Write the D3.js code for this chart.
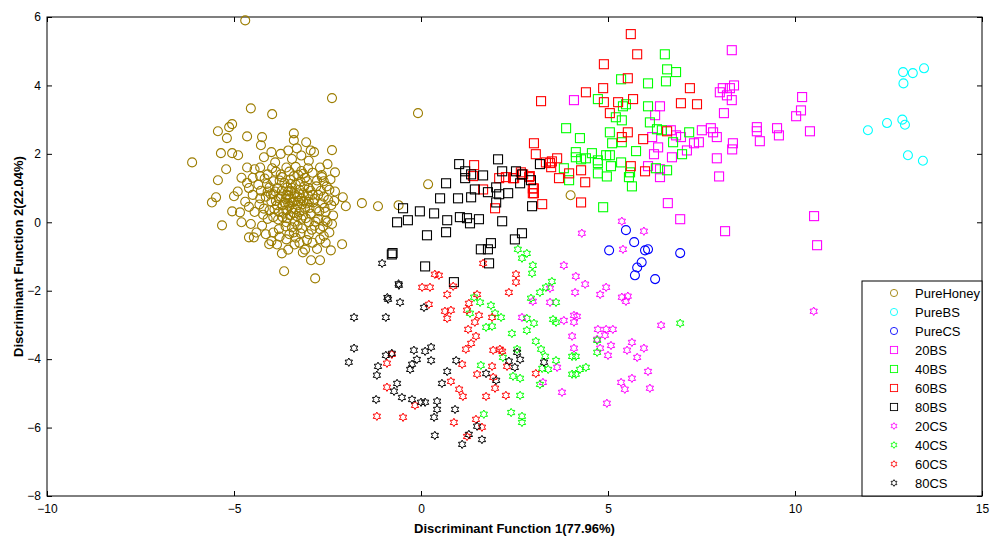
<!DOCTYPE html>
<html lang="en">
<head>
<meta charset="UTF-8">
<title>Discriminant scatter</title>
<script src="https://cdnjs.cloudflare.com/ajax/libs/d3/7.8.5/d3.min.js"></script>
<style>
  body { margin: 0; background: #fff; font-family: Arial, 'Liberation Sans', sans-serif; }
</style>
</head>
<body>
<div id="chart"></div>
<script>
// data as [x, y]
const pureHoney = [
  [-4.7,5.9],[-2.38,3.63],[-4.55,3.33],[-3.98,3.16],[-0.08,3.19],[-5.43,2.66],[-5.13,2.78],[-5.05,2.87],
  [-5.19,2.46],[-4.65,2.51],[-4.25,2.49],[-3.4,2.6],[-3.4,2.4],[-3.07,2.34],[-4.28,2.25],[-6.12,1.75],
  [-5.35,2.02],[-5.05,2.02],[-4.89,1.96],[-2.86,2.05],[-2.38,2.11],[-3.32,2.16],[-5.21,1.55],[-5.43,1.23],
  [-2.3,1.46],[-2.65,1.32],[-5.48,0.73],[-5.59,0.58],[-5.0,0.76],[-5.05,0.32],[-5.32,-0.09],[-2.09,0.73],
  [-2.01,0.47],[-1.58,0.56],[-1.15,0.47],[-4.6,-0.44],[-4.47,-0.44],[-4.06,-0.64],[-2.11,-0.64],[-2.41,-0.82],
  [-2.94,-1.11],[-2.7,-1.11],[-3.66,-1.43],[-2.83,-1.64],[-3.72,-0.91],[-3.16,-0.88],[-4.84,0.29],[0.19,1.11],
  [4.0,0.79],[-0.6,0.5],
  // dense core
  [-3.4,0.6],[-3.5,0.7],[-3.3,0.5],[-3.6,0.8],[-3.2,0.7],[-3.45,0.4],[-3.55,0.9],[-3.25,0.95],[-3.7,0.5],
  [-3.1,0.4],[-3.8,0.7],[-3.0,0.6],[-3.35,1.1],[-3.65,1.15],[-3.9,0.9],[-2.9,0.8],[-3.15,0.2],[-3.5,0.2],
  [-3.8,0.3],[-4.0,0.6],[-2.8,0.4],[-3.3,-0.1],[-3.6,0.0],[-3.0,0.0],[-2.75,0.1],[-4.1,0.9],[-4.2,0.4],
  [-3.95,1.2],[-3.75,1.4],[-3.4,1.35],[-3.05,1.2],[-2.8,1.05],[-2.6,0.75],[-2.55,0.3],[-2.7,-0.2],[-3.0,-0.35],
  [-3.4,-0.3],[-3.8,-0.2],[-4.1,0.1],[-4.3,0.7],[-4.35,1.1],[-4.1,1.4],[-3.6,1.6],[-3.2,1.5],[-2.9,1.45],
  [-2.6,1.2],[-2.45,0.95],[-2.4,0.5],[-2.5,0.0],[-2.6,-0.4],[-2.9,-0.6],[-3.25,-0.6],[-3.6,-0.5],[-3.95,-0.3],
  [-4.25,-0.1],[-4.45,0.3],[-4.5,0.8],[-4.5,1.3],[-4.3,1.6],[-3.9,1.75],[-3.45,1.85],[-3.0,1.8],[-2.7,1.6],
  [-3.55,0.55],[-3.25,0.3],[-3.15,0.85],[-3.85,1.0],[-2.95,0.25],[-3.7,0.15],[-3.45,1.0],[-3.0,1.0],[-2.65,0.55],
  [-4.05,0.35],[-3.35,-0.45],[-2.85,-0.1],[-4.6,1.0],[-4.7,0.6],[-4.65,1.6],[-4.2,1.9],[-3.75,2.0],[-3.2,1.95],
  [-2.5,1.7],[-2.3,0.9],[-2.35,0.2],[-2.45,-0.3],[-3.1,-0.8],[-3.55,-0.8],[-4.0,-0.55],[-4.4,-0.3],[-4.8,0.0],
  [-4.9,0.9],[-4.8,1.3],[-3.3,0.75],[-3.6,0.35],[-3.05,0.55],[-3.85,0.5],[-3.5,1.25],[-2.75,0.8],[-3.2,0.1],
  [-4.15,0.75],[-3.95,0.15],[-2.55,0.05],[-3.1,1.3],[-4.3,1.35],[-2.7,-0.5],[-3.45,-0.15],
  [-3.38,0.82],[-3.52,0.48],[-3.28,0.62],[-3.62,0.68],[-3.18,0.52],[-3.42,0.28],[-3.72,0.92],[-3.12,1.05],
  [-3.58,1.02],[-3.02,0.78],[-3.88,0.62],[-3.32,0.18],[-3.68,0.28],[-2.98,0.42],[-3.48,1.12],[-3.22,1.18],
  [-3.78,1.22],[-2.88,0.58],[-3.92,0.38],[-3.08,0.12],[-3.38,0.02],[-3.62,-0.12],[-2.92,-0.22],[-3.18,-0.18],
  [-3.82,0.08],[-4.02,0.82],[-4.12,1.12],[-3.88,1.48],[-3.52,1.48],[-3.28,1.38],[-2.78,1.22],[-2.68,0.92],
  [-2.72,0.32],[-2.82,0.02],[-3.52,-0.35],[-3.78,-0.42],[-3.05,-0.52],[-2.62,-0.12],[-4.22,0.22],[-4.32,0.52],
  [-4.28,0.92],[-4.18,1.28],[-3.98,1.58],[-3.35,1.62],[-3.02,1.58],[-2.52,1.05],[-2.48,0.65],[-2.58,0.42],
  [-3.45,0.58],[-3.55,0.78],[-3.25,0.82],[-3.35,0.38],[-3.65,0.58],[-3.15,0.62],[-3.75,0.75],[-2.95,0.92],
  [-3.48,0.92],[-3.58,0.12],[-3.22,-0.32],[-2.85,0.68],[-3.95,0.82],[-4.05,1.02],[-3.72,1.32],[-3.15,1.42],
  [-2.65,1.38],[-2.42,1.25],[-2.32,0.62],[-2.38,-0.05],[-2.55,-0.6],[-2.78,-0.78],[-3.38,-0.65],[-3.85,-0.65],
  [-4.15,-0.35],[-4.55,-0.05],[-4.6,0.45],[-4.65,1.15],[-4.45,1.55],[-4.0,2.05],[-3.55,2.1],[-2.95,2.1]
];
const pureBS = [[12.89,4.39],[13.15,4.36],[13.45,4.5],[12.9,4.06],[11.95,2.69],[12.46,2.9],[12.87,3.0],[12.94,2.85],[13.02,1.96],[13.42,1.8]];
const pureCS = [[5.48,-0.23],[5.7,-0.58],[5.03,-0.82],[5.99,-0.82],[6.07,-0.79],[6.93,-0.9],[5.9,-1.17],[5.78,-1.32],[5.72,-1.55],[6.26,-1.66]];
const bs20 = [
  [8.31,5.03],[4.09,3.57],[8.07,3.92],[8.26,3.92],[8.37,4.0],[7.99,3.8],[8.18,3.71],[8.31,3.57],[10.19,3.66],[10.16,3.27],
  [10.03,3.1],[10.4,2.66],[8.1,3.19],[6.39,3.39],[6.26,3.13],[6.18,2.49],[6.68,2.69],[6.95,2.49],[6.82,2.54],[7.51,2.69],
  [7.75,2.75],[7.81,2.63],[7.91,2.49],[7.3,2.31],[7.43,2.34],[8.34,2.31],[8.32,2.13],[8.98,2.78],[8.98,2.66],[9.52,2.75],
  [9.57,2.54],[9.06,2.37],[7.11,2.1],[6.34,2.19],[6.23,1.99],[6.71,1.9],[6.07,1.64],[6.39,1.32],[7.91,1.87],[7.97,1.34],
  [6.6,0.56],[6.93,0.09],[8.13,-0.26],[10.51,0.18],[10.59,-0.67],[6.39,1.55]
];
const bs40 = [
  [6.52,4.91],[6.58,4.47],[6.82,4.39],[6.55,4.12],[6.07,4.06],[5.35,4.18],[4.73,3.6],[5.4,3.39],[5.48,3.45],[6.07,3.39],
  [5.21,3.07],[5.37,2.98],[6.12,2.92],[3.88,2.75],[4.25,2.46],[5.05,2.63],[6.31,2.72],[6.44,2.69],[7.17,2.63],[5.11,2.31],
  [5.37,2.34],[5.75,2.08],[4.14,2.05],[4.14,1.9],[4.28,1.84],[4.41,1.87],[4.57,2.02],[4.73,1.81],[4.73,1.73],[4.95,1.96],
  [5.05,1.96],[3.82,1.58],[3.96,1.23],[4.73,1.43],[4.97,1.34],[5.35,1.75],[5.08,1.64],[5.56,1.32],[5.64,1.05],[5.59,1.46],
  [6.28,1.58],[6.58,1.52],[6.74,2.34],[6.98,1.99],[4.87,0.44]
];
const bs60 = [
  [5.61,5.5],[5.78,4.91],[4.89,4.62],[5.53,4.21],[4.87,3.92],[4.41,3.8],[3.21,3.54],[7.19,3.92],[6.95,3.48],[7.38,3.45],
  [4.89,3.51],[5.27,3.51],[5.67,3.6],[5.05,3.19],[5.53,2.63],[5.37,2.49],[5.94,2.43],[6.58,2.66],[3.02,2.31],[3.07,1.99],
  [3.34,1.75],[3.5,1.78],[3.64,1.87],[3.48,1.61],[3.96,1.43],[4.28,1.52],[3.69,1.29],[4.39,1.17],[5.61,1.64],[5.99,1.49],
  [2.27,1.32],[2.49,1.29],[2.67,1.46],[2.89,1.32],[2.99,0.99],[2.99,0.85],[3.24,0.53],[4.28,0.58],[1.42,1.67],[1.39,1.35],
  [2.09,1.29],[2.46,1.29],[2.73,1.4],[2.91,1.35],[1.66,0.96],[3.02,0.99],[3.02,0.85],[1.98,0.41],[3.45,1.73]
];
const bs80 = [
  [1.02,1.7],[1.18,1.49],[1.34,1.4],[1.18,1.29],[1.66,1.37],[2.06,1.84],[2.17,1.49],[2.54,1.49],[2.7,1.4],[2.94,1.23],
  [3.18,1.7],[2.65,1.14],[0.67,1.14],[2.01,1.02],[1.44,0.96],[1.34,0.73],[1.79,0.88],[2.09,0.82],[2.33,0.85],[2.01,0.58],
  [2.97,0.47],[0.51,0.7],[0.99,0.7],[-0.48,0.41],[-0.03,0.32],[0.35,0.26],[-0.64,0.0],[-0.35,0.06],[0.7,0.06],[1.04,0.15],
  [1.23,0.12],[1.55,0.09],[1.31,-0.03],[2.17,0.03],[0.16,-0.38],[0.67,-0.29],[2.51,-0.5],[2.7,-0.32],[1.87,-0.61],[1.6,-0.79],
  [1.79,-0.79],[1.82,-1.2],[0.11,-1.29],[-0.78,-0.94],[-0.76,-0.9],[0.88,-1.75]
];
const cs20 = [
  [5.37,0.03],[4.3,-0.32],[5.96,-0.26],[5.4,-0.79],[3.82,-1.26],[4.14,-1.58],[4.39,-1.81],[4.12,-2.05],[4.95,-1.9],[4.79,-2.11],
  [5.37,-2.19],[5.53,-2.16],[5.48,-2.31],[3.45,-1.93],[3.45,-2.34],[2.99,-2.31],[2.7,-2.78],[4.09,-2.72],[4.17,-2.75],[4.09,-2.92],
  [3.82,-2.87],[4.73,-3.13],[4.95,-3.13],[5.13,-3.13],[4.92,-3.3],[4.04,-3.33],[6.42,-3.01],[5.64,-3.51],[5.51,-3.74],[5.08,-3.6],
  [4.79,-3.68],[5.0,-3.89],[5.96,-3.68],[5.78,-3.95],[4.09,-3.68],[4.71,-3.42],[3.64,-4.24],[3.26,-4.68],[3.77,-4.97],[5.35,-4.68],
  [5.45,-4.88],[5.64,-4.56],[6.07,-4.36],[6.12,-4.85],[4.97,-5.29],[10.5,-2.6]
];
const cs40 = [
  [2.59,-0.79],[2.83,-0.91],[2.7,-1.05],[2.99,-1.26],[2.97,-1.49],[3.5,-1.73],[3.34,-1.9],[3.18,-2.05],[2.94,-2.22],[3.61,-2.34],
  [1.58,-2.34],[1.87,-2.43],[1.98,-2.66],[2.14,-2.78],[1.74,-3.07],[1.9,-3.04],[1.31,-2.66],[2.43,-3.25],[2.83,-2.81],[3.02,-2.95],
  [2.83,-3.16],[3.53,-2.84],[3.61,-2.92],[3.07,-3.48],[3.21,-3.71],[3.32,-3.92],[2.19,-3.95],[2.57,-3.71],[3.61,-4.04],[3.24,-4.27],
  [3.4,-4.3],[4.04,-3.92],[4.14,-3.92],[4.71,-3.45],[4.71,-3.8],[1.6,-4.18],[2.46,-4.5],[2.65,-4.56],[3.18,-4.74],[4.04,-4.44],
  [4.14,-4.44],[4.25,-4.3],[4.41,-4.24],[2.65,-5.06],[1.68,-5.61],[2.41,-5.56],[2.7,-5.67],[2.7,-5.85],[6.93,-2.95],[1.42,-2.19]
];
const cs60 = [
  [1.66,-1.2],[0.37,-1.52],[2.54,-1.52],[2.54,-1.75],[2.35,-2.05],[0.03,-1.9],[0.24,-1.9],[0.86,-1.87],[0.7,-2.11],[1.5,-2.11],
  [0.21,-2.4],[1.28,-2.37],[1.23,-2.57],[0.64,-2.6],[0.8,-2.57],[0.7,-2.81],[1.55,-2.72],[1.44,-2.92],[1.9,-2.78],[1.26,-3.13],
  [1.47,-3.33],[1.34,-3.54],[1.2,-3.71],[1.93,-3.74],[2.11,-3.71],[2.17,-3.77],[-0.78,-3.86],[-0.91,-4.12],[1.1,-4.15],[1.9,-4.21],
  [2.3,-4.21],[3.07,-4.42],[1.5,-4.44],[1.93,-4.53],[0.8,-4.65],[1.98,-4.85],[-0.91,-4.82],[1.02,-4.88],[1.12,-5.09],[1.74,-5.09],
  [2.27,-5.06],[-0.16,-5.35],[-1.18,-5.67],[-0.48,-5.7],[0.88,-5.85],[1.47,-5.76],[1.63,-5.99],[1.23,-6.26],[0.48,-1.55]
];
const cs80 = [
  [-1.04,-1.2],[-0.59,-1.84],[-0.56,-2.34],[-0.88,-2.25],[-1.79,-2.78],[-0.94,-2.78],[0.08,-2.49],[-1.79,-3.68],[-1.93,-4.09],[-1.15,-4.21],
  [-1.18,-4.47],[-0.94,-3.89],[-0.78,-3.83],[-0.19,-3.74],[0.11,-3.77],[0.27,-3.65],[0.27,-4.04],[-0.11,-4.01],[-0.24,-4.15],[-0.29,-4.3],
  [-0.64,-4.71],[-0.72,-4.94],[-0.51,-5.12],[-1.2,-5.18],[-0.24,-5.18],[0.0,-5.26],[0.11,-5.26],[0.43,-5.23],[0.43,-5.47],[0.35,-5.7],
  [0.91,-5.47],[0.94,-4.04],[0.7,-4.36],[0.56,-4.71],[1.74,-4.42],[2.01,-4.62],[2.35,-4.06],[2.51,-4.24],[2.57,-3.8],[2.65,-4.01],
  [3.29,-4.09],[0.37,-6.23],[1.1,-6.49],[1.28,-6.2],[1.5,-5.96],[1.63,-6.35],[-0.6,-1.8],[-0.9,-2.2]
];

const seriesNames = ["PureHoney","PureBS","PureCS","20BS","40BS","60BS","80BS","20CS","40CS","60CS","80CS"];
const seriesData = [pureHoney, pureBS, pureCS, bs20, bs40, bs60, bs80, cs20, cs40, cs60, cs80];
const seriesShape = ["circle","circle","circle","square","square","square","square","hex","hex","hex","hex"];
const seriesColor = ["#9c7d00","#00ffff","#0000ff","#ff00ff","#00ff00","#ff0000","#000000","#ff00ff","#00ff00","#ff0000","#000000"];
const xTicks = [-10,-5,0,5,10,15];
const yTicks = [-8,-6,-4,-2,0,2,4,6];

const W = 1000, H = 548;
const m = { left: 47, right: 18, top: 17, bottom: 52 };

const svg = d3.select("#chart").append("svg").attr("width", W).attr("height", H);

const x = d3.scaleLinear().domain([-10, 15]).range([m.left, W - m.right]);
const y = d3.scaleLinear().domain([-8, 6]).range([H - m.bottom, m.top]);

// axes with inward ticks
const gx = svg.append("g").attr("transform", `translate(0,${H - m.bottom})`)
  .call(d3.axisBottom(x).tickValues(xTicks).tickSizeInner(-5).tickSizeOuter(0).tickPadding(8));
const gxTop = svg.append("g").attr("transform", `translate(0,${m.top})`)
  .call(d3.axisTop(x).tickValues(xTicks).tickSizeInner(-5).tickSizeOuter(0).tickFormat(""));
const gy = svg.append("g").attr("transform", `translate(${m.left},0)`)
  .call(d3.axisLeft(y).tickValues(yTicks).tickSizeInner(-5).tickSizeOuter(0).tickPadding(6));
const gyR = svg.append("g").attr("transform", `translate(${W - m.right},0)`)
  .call(d3.axisRight(y).tickValues(yTicks).tickSizeInner(-5).tickSizeOuter(0).tickFormat(""));
[gx, gxTop, gy, gyR].forEach(g => {
  g.select(".domain").remove();
  g.selectAll("line").attr("stroke", "#000");
  g.selectAll("text").attr("font-size", 12).attr("font-family", "Arial, 'Liberation Sans', sans-serif").attr("fill", "#000");
});

svg.append("rect")
  .attr("x", m.left).attr("y", m.top)
  .attr("width", W - m.left - m.right).attr("height", H - m.top - m.bottom)
  .attr("fill", "none").attr("stroke", "#000");

// hexagram path
function hexagram(r) {
  const pts = [];
  for (let i = 0; i < 12; i++) {
    const a = -Math.PI / 2 + i * Math.PI / 6;
    const rr = i % 2 === 0 ? r : r * 0.58;
    pts.push([rr * Math.cos(a), rr * Math.sin(a)]);
  }
  return "M" + pts.map(p => p[0].toFixed(2) + "," + p[1].toFixed(2)).join("L") + "Z";
}

function drawMark(g, shape, color) {
  if (shape === "circle") {
    g.append("circle").attr("r", 4.5).attr("fill", "none").attr("stroke", color).attr("stroke-width", 1.1);
  } else if (shape === "square") {
    g.append("rect").attr("x", -4.5).attr("y", -4.5).attr("width", 9).attr("height", 9)
      .attr("fill", "none").attr("stroke", color).attr("stroke-width", 1.1);
  } else {
    g.append("path").attr("d", hexagram(4.2)).attr("fill", "none").attr("stroke", color).attr("stroke-width", 1);
  }
}

seriesData.forEach((data, i) => {
  svg.append("g").selectAll("g").data(data).join("g")
    .attr("transform", d => `translate(${x(d[0])},${y(d[1])})`)
    .each(function () { drawMark(d3.select(this), seriesShape[i], seriesColor[i]); });
});

// legend
const lg = svg.append("g").attr("transform", `translate(862,281)`);
lg.append("rect").attr("width", 120).attr("height", 215).attr("fill", "#fff").attr("stroke", "#000");
seriesNames.forEach((name, i) => {
  const row = lg.append("g").attr("transform", `translate(0,${12 + i * 19})`);
  const mk = row.append("g").attr("transform", "translate(32,0) scale(0.8)");
  drawMark(mk, seriesShape[i], seriesColor[i]);
  row.append("text").attr("x", 53).attr("y", 5).attr("font-size", 13).attr("fill", "#000").text(name);
});

// axis titles
svg.append("text").attr("x", (m.left + W - m.right) / 2).attr("y", H - 15)
  .attr("text-anchor", "middle").attr("font-size", 13).attr("font-weight", "bold")
  .text("Discriminant Function 1(77.96%)");
svg.append("text").attr("transform", `translate(23,${(m.top + H - m.bottom) / 2}) rotate(-90)`)
  .attr("text-anchor", "middle").attr("font-size", 13).attr("font-weight", "bold")
  .text("Discriminant Function 2(22.04%)");
</script>
</body>
</html>
